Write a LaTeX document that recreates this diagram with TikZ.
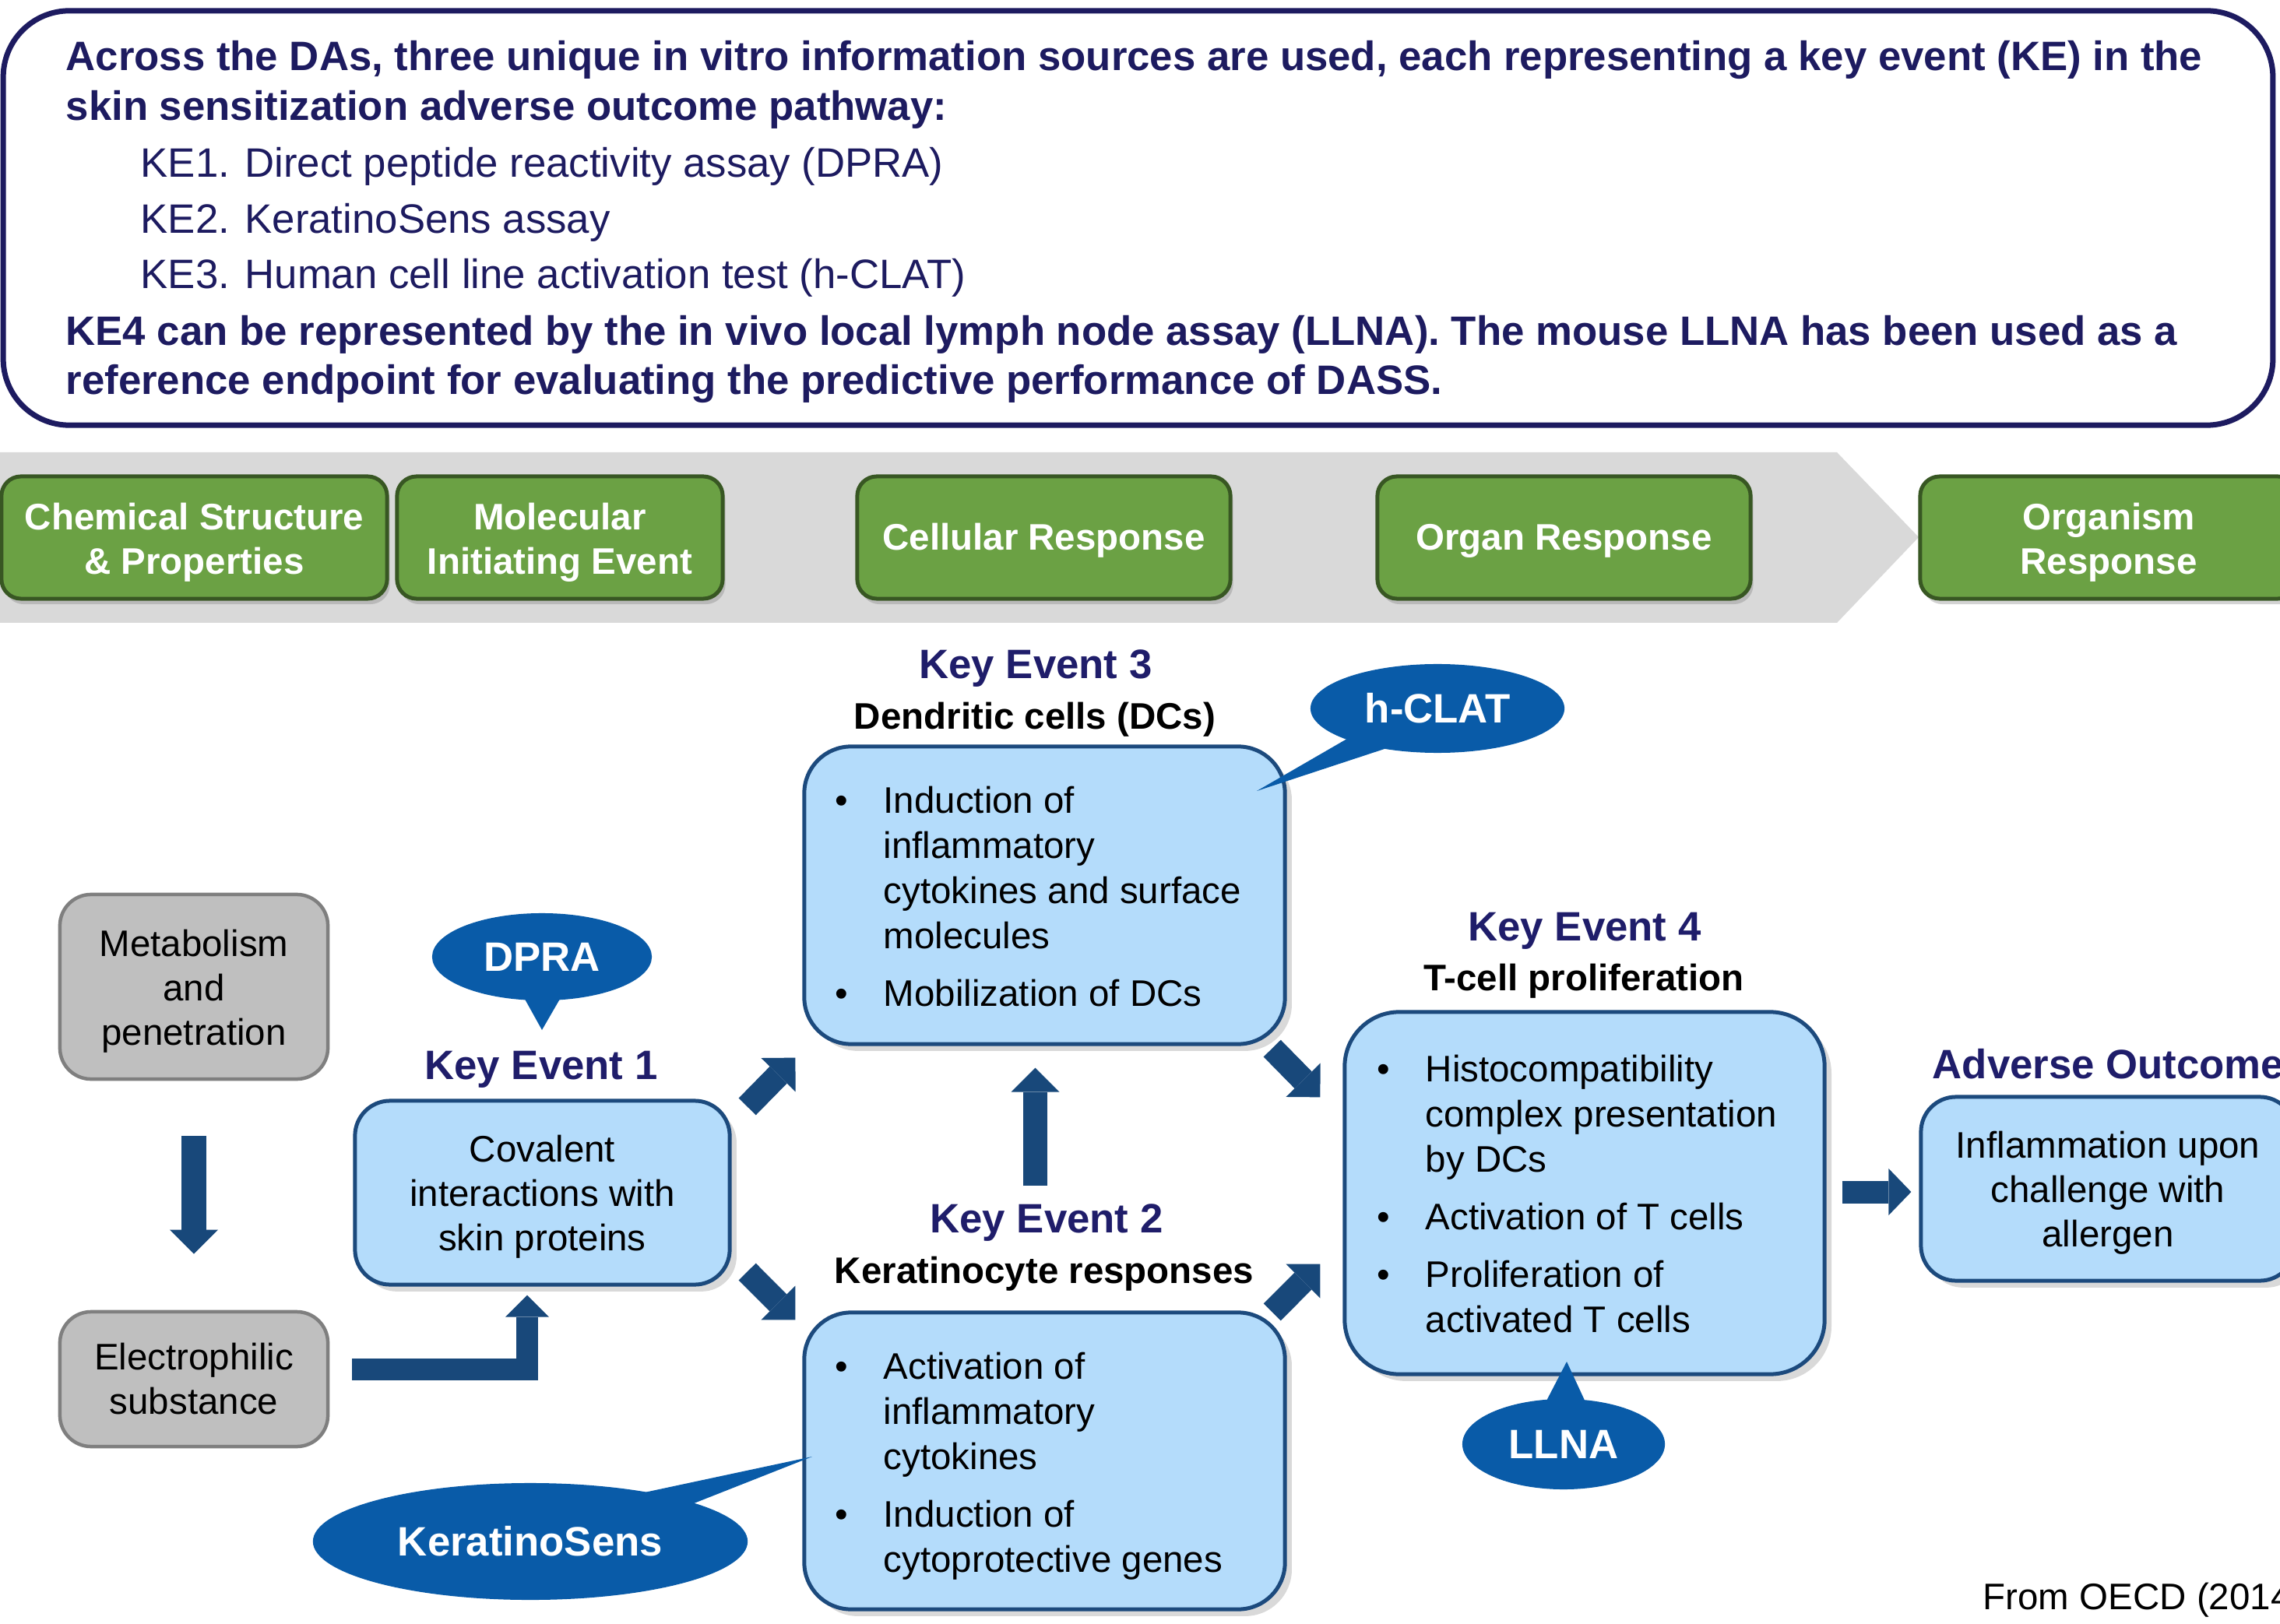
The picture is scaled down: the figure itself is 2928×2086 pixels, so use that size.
\documentclass[tikz,border=0pt]{standalone}
\usepackage{fontspec}
\setmainfont{Liberation Sans}
\usetikzlibrary{arrows.meta,shadows,calc,shapes.geometric}
\definecolor{navy}{RGB}{29,27,96}
\definecolor{navyt}{RGB}{31,29,106}
\definecolor{band}{RGB}{217,217,217}
\definecolor{gfill}{RGB}{107,161,68}
\definecolor{gline}{RGB}{56,87,35}
\definecolor{kefill}{RGB}{180,220,251}
\definecolor{keline}{RGB}{28,74,125}
\definecolor{arr}{RGB}{24,72,122}
\definecolor{grfill}{RGB}{191,191,191}
\definecolor{grline}{RGB}{127,127,127}
\definecolor{callfill}{RGB}{9,91,168}
\definecolor{callline}{RGB}{6,52,105}
\pgfdeclareradialshading{bevel}{\pgfpoint{0bp}{0bp}}{color(0bp)=(callfill); color(41bp)=(callfill); color(49bp)=(callline); color(50bp)=(callline)}
\newcommand\bodyfont{\fontsize{13.5}{16.2}\selectfont}
\newcommand\listfont{\fontsize{13.5}{16.5}\selectfont}
\newcommand\headfont{\fontsize{15}{18}\selectfont}
\newcommand\titlefont{\fontsize{15}{18}\selectfont\bfseries}
\newcommand\topstrut{\rule{0pt}{13pt}}
\tikzset{
  greenbox/.style={draw=gline, line width=0.05cm, fill=gfill, rounded corners=0.25cm, minimum height=1.57cm, inner sep=0pt, drop shadow={shadow xshift=1pt, shadow yshift=-2pt, opacity=0.35}},
  gtext/.style={align=center, text=white, font=\bodyfont\bfseries, inner sep=0pt},
  graybox/.style={draw=grline, line width=0.045cm, fill=grfill, rounded corners=0.4cm, minimum width=3.44cm, align=center, font=\bodyfont, inner sep=0pt},
  kebox/.style={draw=keline, line width=0.05cm, fill=kefill, align=center, font=\bodyfont, inner sep=0pt, drop shadow={shadow xshift=2.5pt, shadow yshift=-2.5pt, opacity=0.3}},
  ketitle/.style={text=navyt, font=\titlefont, anchor=base, inner sep=0pt},
  kesub/.style={font=\bodyfont\bfseries, anchor=base, inner sep=0pt},
  callout/.style={ellipse, shade, shading=bevel, text=white, font=\titlefont, inner sep=0pt},
  calltail/.style={fill=callfill},
  blockarrow/.style={draw=arr, line width=0.31cm, line join=miter, -{Triangle[length=0.31cm, width=0.62cm, line width=0pt]}},
  headline/.style={anchor=base west, text=navy, font=\headfont, inner sep=0pt},
  listnode/.style={anchor=north west, inner sep=0pt, font=\listfont},
}
\begin{document}
\begin{tikzpicture}[x=0.01cm, y=-0.01cm]
\useasboundingbox (0,0) rectangle (2928,2086);
% header box
\node[draw=navy, line width=0.07cm, rounded corners=0.85cm, minimum width=29.13cm, minimum height=5.32cm, inner sep=0pt] (topbox) at (1461.5,280) {};
\node[headline, font=\headfont\bfseries] (h1) at (84,91) {Across the DAs, three unique in vitro information sources are used, each representing a key event (KE) in the};
\node[headline, font=\headfont\bfseries] (h2) at (84,155) {skin sensitization adverse outcome pathway:};
\node[headline] (h3) at (180,228) {KE1. Direct peptide reactivity assay (DPRA)};
\node[headline] (h4) at (180,300) {KE2. KeratinoSens assay};
\node[headline] (h5) at (180,371) {KE3. Human cell line activation test (h-CLAT)};
\node[headline, font=\headfont\bfseries] (h6) at (84,444) {KE4 can be represented by the in vivo local lymph node assay (LLNA). The mouse LLNA has been used as a};
\node[headline, font=\headfont\bfseries] (h7) at (84,507) {reference endpoint for evaluating the predictive performance of DASS.};
% level band
\fill[band] (0,581) -- (2359,581) -- (2464,690) -- (2359,800) -- (0,800) -- cycle;
\node[greenbox, minimum width=4.95cm] (g1) at (249.5,690.5) {};
\node[greenbox, minimum width=4.18cm] (g2) at (719,690.5) {};
\node[greenbox, minimum width=4.79cm] (g3) at (1340.5,690.5) {};
\node[greenbox, minimum width=4.79cm] (g4) at (2008.5,690.5) {};
\node[greenbox, minimum width=4.84cm] (g5) at (2708,690.5) {};
\node[gtext] (g1t) at ($(g1.center)+(0,6)$) {Chemical Structure\\\& Properties};
\node[gtext] (g2t) at ($(g2.center)+(0,6)$) {Molecular\\Initiating Event};
\node[gtext] (g3t) at ($(g3.center)+(0,4)$) {Cellular Response};
\node[gtext] (g4t) at ($(g4.center)+(0,4)$) {Organ Response};
\node[gtext] (g5t) at ($(g5.center)+(0,6)$) {Organism\\Response};
% gray boxes
\node[graybox, minimum height=2.37cm] (metab) at (249,1267.5) {\topstrut Metabolism\\and\\penetration};
\node[graybox, minimum height=1.73cm] (elec) at (249,1771.5) {Electrophilic\\substance};
% key event boxes
\node[kebox, rounded corners=0.45cm, minimum width=4.81cm, minimum height=2.36cm] (ke1) at (696.5,1532) {\topstrut Covalent\\interactions with\\skin proteins};
\node[kebox, rounded corners=0.6cm, minimum width=6.17cm, minimum height=3.82cm] (ke3) at (1341.5,1150) {};
\node[kebox, rounded corners=0.6cm, minimum width=6.17cm, minimum height=3.81cm] (ke2) at (1341.5,1876.5) {};
\node[kebox, rounded corners=0.7cm, minimum width=6.16cm, minimum height=4.65cm] (ke4) at (2035,1532.5) {};
\node[kebox, rounded corners=0.45cm, minimum width=4.80cm, minimum height=2.36cm] (ao) at (2707,1527) {\topstrut Inflammation upon\\challenge with\\allergen};
% lists
\node[listnode] (ke3list) at (1072,1003.4) {\begin{tabular}{@{}p{0.62cm}@{}l@{}}
\textbullet & Induction of\\ & inflammatory\\ & cytokines and surface\\ & molecules\\[4.5pt]
\textbullet & Mobilization of DCs\end{tabular}};
\node[listnode] (ke2list) at (1072,1730.4) {\begin{tabular}{@{}p{0.62cm}@{}l@{}}
\textbullet & Activation of\\ & inflammatory\\ & cytokines\\[4.5pt]
\textbullet & Induction of\\ & cytoprotective genes\end{tabular}};
\node[listnode] (ke4list) at (1768,1348.4) {\begin{tabular}{@{}p{0.62cm}@{}l@{}}
\textbullet & Histocompatibility\\ & complex presentation\\ & by DCs\\[4.5pt]
\textbullet & Activation of T cells\\[4.5pt]
\textbullet & Proliferation of\\ & activated T cells\end{tabular}};
% titles
\node[ketitle] (t1) at (695,1386) {Key Event 1};
\node[ketitle] (t3) at (1330,872) {Key Event 3};
\node[kesub] (s3) at (1329,937) {Dendritic cells (DCs)};
\node[ketitle] (t2) at (1344,1583) {Key Event 2};
\node[kesub] (s2) at (1341,1648) {Keratinocyte responses};
\node[ketitle] (t4) at (2035,1208) {Key Event 4};
\node[kesub] (s4) at (2034,1272) {T-cell proliferation};
\node[ketitle, anchor=base west] (tao) at (2481,1385) {Adverse Outcome};
\node[anchor=base west, font=\bodyfont, inner sep=0pt] (src) at (2546,2067) {From OECD (2014)};
% callouts
\node[callout, minimum width=2.82cm, minimum height=1.12cm] (dpra) at (696,1229) {DPRA};
\fill[calltail] ($(dpra.center)+(-25,49)$) -- ($(dpra.center)+(0,94)$) -- ($(dpra.center)+(26,49)$) -- cycle;
\node[callout, minimum width=3.26cm, minimum height=1.14cm] (hclat) at (1846,910) {h-CLAT};
\fill[calltail] ($(hclat.center)+(-111,36)$) -- ($(hclat.center)+(-232,106)$) -- ($(hclat.center)+(-56,48)$) -- cycle;
\node[callout, minimum width=2.60cm, minimum height=1.16cm] (llna) at (2008,1855) {LLNA};
\fill[calltail] ($(llna.center)+(-24,-52)$) -- ($(llna.center)+(4,-106)$) -- ($(llna.center)+(29,-52)$) -- cycle;
\node[callout, minimum width=5.58cm, minimum height=1.50cm] (ksens) at (681,1980) {KeratinoSens};
\fill[calltail] ($(ksens.center)+(142,-62)$) -- ($(ksens.center)+(362,-109)$) -- ($(ksens.center)+(205,-47)$) -- cycle;
% arrows
\draw[blockarrow, line width=0.32cm] ($(metab.south)+(0,71)$) -- ($(elec.north)+(0,-72)$);
\draw[blockarrow, line width=0.28cm, -{Triangle[length=0.28cm, width=0.56cm, line width=0pt]}] ($(elec.east)+(29,-12.5)$) -| ($(ke1.south)+(-19.5,11)$);
\draw[blockarrow] ($(ke2.north)+(-12,-160)$) -- ($(ke3.south)+(-12,28)$);
\draw[blockarrow] ($(ke1.north east)+(20,10)$) -- ($(ke3.south west)+(-9,15)$);
\draw[blockarrow] ($(ke1.south east)+(20,-19)$) -- ($(ke2.north west)+(-9,12)$);
\draw[blockarrow] ($(ke3.south east)+(-19,3)$) -- ($(ke4.north west)+(-29,112)$);
\draw[blockarrow] ($(ke2.north east)+(-19,2)$) -- ($(ke4.south west)+(-29,-144)$);
\draw[blockarrow, line width=0.29cm, -{Triangle[length=0.29cm, width=0.60cm, line width=0pt]}] ($(ke4.east)+(20,-1.5)$) -- ($(ao.west)+(-10,4)$);
\end{tikzpicture}
\end{document}
